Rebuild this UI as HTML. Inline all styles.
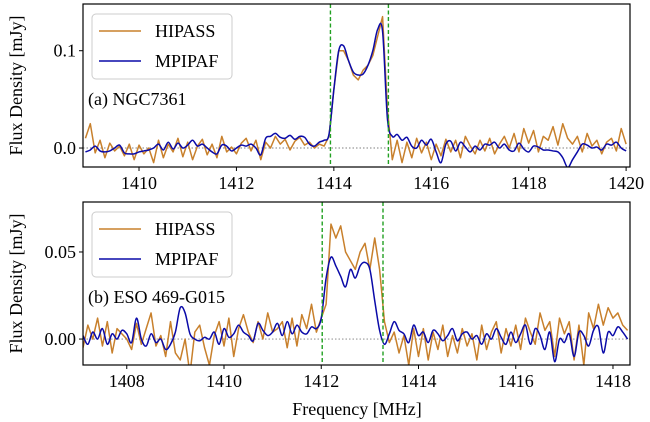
<!DOCTYPE html>
<html><head><meta charset="utf-8"><style>
html,body{margin:0;padding:0;background:#fff;}
svg{display:block;font-family:"Liberation Serif",serif;}
</style></head><body>
<svg id="chart" width="650" height="422" viewBox="0 0 650 422"></svg>
<script>
// Panel (a) NGC7361: x from 1408.9 step 0.1
const aStart = 1408.9;
const aHipass = [0.01,0.025,-0.005,0.008,-0.01,0.005,-0.003,0.002,-0.008,0.004,-0.012,
0.003,-0.006,0.0,-0.015,0.008,-0.01,0.004,-0.004,0.01,-0.009,
0.006,-0.012,0.002,0.009,-0.007,0.004,-0.01,0.012,-0.004,0.001,
-0.006,0.005,0.01,-0.003,0.008,-0.012,0.006,0.0,0.012,0.004,
0.009,-0.002,0.007,0.011,0.003,0.006,0.0,0.004,0.002,0.012,
0.06,0.1,0.1,0.09,0.075,0.07,0.08,0.085,0.095,0.115,
0.135,0.04,-0.012,0.008,-0.015,0.006,-0.01,0.01,-0.005,0.006,
-0.012,0.004,-0.008,0.009,-0.004,0.008,-0.01,0.012,0.002,-0.006,
0.008,-0.003,0.01,-0.006,0.004,0.012,0.0,0.015,-0.004,0.02,
0.005,0.018,-0.004,0.012,0.008,0.022,0.003,0.025,0.01,0.004,
0.012,-0.004,0.015,0.002,0.008,-0.006,0.006,0.01,-0.003,0.02,
0.004];
const aMpipaf = [-0.004,-0.002,0.002,-0.003,-0.004,-0.003,0.0,0.003,-0.005,-0.006,-0.006,
-0.004,-0.003,-0.002,0.0,0.004,-0.002,0.006,-0.001,0.005,0.0,
0.003,0.008,0.002,0.004,0.0,-0.004,-0.006,0.003,0.002,-0.003,
0.0,0.003,0.002,0.004,0.0,-0.007,0.01,0.012,0.015,0.011,
0.01,0.013,0.009,0.012,0.011,0.004,0.002,0.006,0.008,0.014,
0.06,0.1,0.105,0.09,0.078,0.075,0.076,0.085,0.1,0.122,
0.12,0.03,0.012,0.014,0.008,0.011,0.002,0.0,0.008,0.003,
0.009,-0.004,-0.015,0.004,0.007,-0.003,0.006,0.001,-0.004,0.002,
-0.002,0.004,0.003,0.006,0.0,0.004,-0.002,-0.003,0.005,-0.001,
-0.004,0.002,0.001,-0.002,-0.002,-0.003,-0.004,-0.01,-0.02,-0.012,
-0.004,0.004,0.003,0.0,0.001,-0.002,0.004,0.003,0.006,0.0,
-0.003];
const aXTicks = [1410,1412,1414,1416,1418,1420];
const aYTicks = [0.0,0.1];
const aYTickLabels = ["0.0","0.1"];
const aEdges = [1413.93,1415.12];

// Panel (b) ESO 469-G015: x from 1407.1 step 0.1
const bStart = 1407.1;
const bHipass = [-0.005,0.008,0.0,0.012,-0.004,0.01,-0.008,0.006,0.003,
0.0,-0.006,0.009,-0.003,0.006,0.015,-0.004,0.002,-0.01,0.01,
-0.008,-0.012,0.0,-0.02,0.004,0.008,-0.005,-0.015,0.002,0.01,
-0.004,0.012,-0.01,0.006,0.014,0.004,-0.002,0.01,0.0,0.015,
0.004,0.006,0.01,-0.005,0.012,-0.004,0.014,0.006,0.02,0.004,
0.012,0.02,0.066,0.058,0.065,0.05,0.045,0.04,0.05,0.055,
0.04,0.058,0.04,0.01,-0.002,0.004,-0.008,0.002,-0.015,0.006,
-0.01,0.006,-0.012,0.004,-0.006,0.008,-0.01,0.002,-0.008,0.006,
-0.004,0.003,-0.012,0.008,-0.006,0.004,0.01,-0.008,0.006,-0.004,
0.008,-0.006,0.012,0.004,-0.003,0.015,0.005,0.01,-0.01,0.012,
0.003,0.01,-0.012,0.008,-0.015,0.015,0.006,0.02,0.008,0.018,
0.012,0.015,0.008,0.005];
const bMpipaf = [0.002,-0.003,0.004,0.0,0.006,-0.003,0.003,0.0,0.005,
0.003,-0.002,0.012,0.0,-0.004,0.003,-0.002,0.0,-0.006,-0.003,
0.004,0.018,0.015,0.003,0.0,-0.001,0.001,0.0,0.004,-0.003,
0.006,0.001,0.003,0.008,0.004,0.002,-0.001,0.009,0.005,0.002,
0.004,0.009,0.002,0.01,0.003,0.008,0.004,0.003,0.007,0.006,
0.012,0.035,0.047,0.042,0.036,0.03,0.04,0.035,0.042,0.044,
0.04,0.022,0.005,-0.003,0.003,0.01,0.005,0.003,-0.002,0.008,
0.002,0.004,-0.002,0.005,0.003,-0.001,0.002,0.006,-0.001,0.003,
0.004,0.0,0.002,-0.003,0.003,0.0,0.006,0.001,-0.003,0.004,
-0.002,0.003,0.008,-0.003,0.006,0.002,-0.006,0.004,-0.013,0.0,
-0.002,0.003,-0.01,0.004,0.002,-0.004,0.005,0.007,-0.008,0.004,
0.002,0.007,0.004,0.0];
const bXTicks = [1408,1410,1412,1414,1416,1418];
const bYTicks = [0.0,0.05];
const bYTickLabels = ["0.00","0.05"];
const bEdges = [1412.02,1413.27];

const seriesNames = ["HIPASS","MPIPAF"];
const step = 0.1;

const NS = "http://www.w3.org/2000/svg";
const svg = document.getElementById('chart');
function mk(tag, attrs, parent){
  const e = document.createElementNS(NS, tag);
  for (const k in attrs) e.setAttribute(k, attrs[k]);
  (parent||svg).appendChild(e);
  return e;
}
function smoothPath(pts){
  let d = "M"+pts[0][0].toFixed(2)+","+pts[0][1].toFixed(2);
  for (let i=0;i<pts.length-1;i++){
    const p0=pts[i-1]||pts[i], p1=pts[i], p2=pts[i+1], p3=pts[i+2]||p2;
    const c1x=p1[0]+(p2[0]-p0[0])/6, c1y=p1[1]+(p2[1]-p0[1])/6;
    const c2x=p2[0]-(p3[0]-p1[0])/6, c2y=p2[1]-(p3[1]-p1[1])/6;
    d+=" C"+c1x.toFixed(2)+","+c1y.toFixed(2)+" "+c2x.toFixed(2)+","+c2y.toFixed(2)+" "+p2[0].toFixed(2)+","+p2[1].toFixed(2);
  }
  return d;
}
function panel(cfg){
  const {id,left,right,top,bottom,x0,x1,y0,y1,start,hip,mpi,xticks,yticks,ylabels,edges,label} = cfg;
  const g = mk('g',{});
  
  
  const sx = v => left + (v-x0)/(x1-x0)*(right-left);
  const sy = v => bottom - (v-y0)/(y1-y0)*(bottom-top);
  const clipId = id+'-clip';
  const cp = mk('clipPath',{id:clipId},g);
  mk('rect',{x:left,y:top,width:right-left,height:bottom-top},cp);
  const z = mk('line',{x1:left,x2:right,y1:sy(0),y2:sy(0),stroke:'#999','stroke-width':1.2,'stroke-dasharray':'1.5,2'},g);
  
  
  const data = [[hip,'#c8802c',false,'hipass'],[mpi,'#0a0aa8',true,'mpipaf']];
  data.forEach(([arr,col,smooth,nm])=>{
    const pts = arr.map((v,i)=>[sx(start+i*step), sy(v)]);
    let d;
    if (smooth) d = smoothPath(pts);
    else d = "M"+pts.map(p=>p[0].toFixed(2)+","+p[1].toFixed(2)).join(" L");
    const p = mk('path',{d:d,fill:'none',stroke:col,'stroke-width':1.5,'clip-path':'url(#'+clipId+')','stroke-linejoin':'round'},g);
    
    
  });
  edges.forEach((e,i)=>{
    const l = mk('line',{x1:sx(e),x2:sx(e),y1:top,y2:bottom,stroke:'#22a022','stroke-width':1.4,'stroke-dasharray':'4,2.5'},g);
    
    
  });
  const fr = mk('rect',{x:left,y:top,width:right-left,height:bottom-top,fill:'none',stroke:'#000','stroke-width':1.2},g);
  
  
  xticks.forEach(t=>{
    const x=sx(t);
    mk('line',{x1:x,x2:x,y1:bottom,y2:bottom+4,stroke:'#000','stroke-width':1},g);
    const tx = mk('text',{x:x,y:bottom+22,'font-size':18,'text-anchor':'middle',fill:'#000'},g);
    tx.textContent = t;
    
    
  });
  yticks.forEach((t,i)=>{
    const y=sy(t);
    mk('line',{x1:left-4,x2:left,y1:y,y2:y,stroke:'#000','stroke-width':1},g);
    const tx = mk('text',{x:left-7,y:y+6,'font-size':18,'text-anchor':'end',fill:'#000'},g);
    tx.textContent = ylabels[i];
    
    
  });
  const yl = mk('text',{x:0,y:0,'font-size':18,'text-anchor':'middle',fill:'#000',transform:'translate(22,'+((top+bottom)/2)+') rotate(-90)'},g);
  yl.textContent = 'Flux Density [mJy]';
  
  
  const lg = mk('g',{},g);
  
  
  mk('rect',{x:left+9,y:top+10,width:140,height:65,rx:4,fill:'#fff','fill-opacity':0.85,stroke:'#ccc','stroke-width':1},lg);
  const cols=['#c8802c','#0a0aa8'];
  seriesNames.forEach((n,i)=>{
    const yy = top+27+i*30;
    mk('line',{x1:left+16,x2:left+58,y1:yy,y2:yy,stroke:cols[i],'stroke-width':1.5},lg);
    const t = mk('text',{x:left+72,y:yy+6,'font-size':18,fill:'#000'},lg);
    t.textContent = n;
    
    
  });
  const pl = mk('text',{x:left+5,y:top+101,'font-size':18,fill:'#000'},g);
  pl.textContent = label;
  
  
}
panel({id:'panel-a',left:83,right:630,top:4,bottom:167,x0:1408.85,x1:1420.08,y0:-0.0195,y1:0.148,
  start:aStart,hip:aHipass,mpi:aMpipaf,xticks:aXTicks,yticks:aYTicks,ylabels:aYTickLabels,edges:aEdges,label:'(a) NGC7361'});
panel({id:'panel-b',left:83,right:630,top:202,bottom:365,x0:1407.1,x1:1418.35,y0:-0.0149,y1:0.0787,
  start:bStart,hip:bHipass,mpi:bMpipaf,xticks:bXTicks,yticks:bYTicks,ylabels:bYTickLabels,edges:bEdges,label:'(b) ESO 469-G015'});
const xl = mk('text',{x:357,y:415,'font-size':18,'text-anchor':'middle',fill:'#000'});
xl.textContent = 'Frequency [MHz]';


</script>
</body></html>
